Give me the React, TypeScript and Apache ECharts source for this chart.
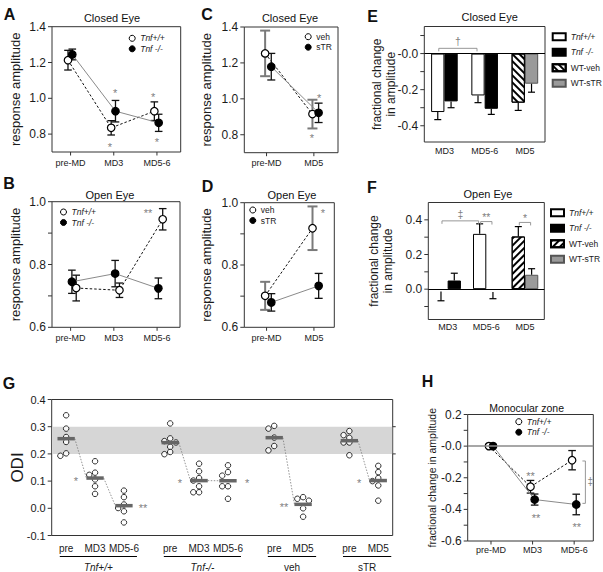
import React, { useEffect, useRef } from 'react';
import * as echarts from 'echarts';

const FONT = '"Liberation Sans", Arial, Helvetica, sans-serif';
const INK = '#1b1b1b';
const AXIS = '#333';
const STAR = '#808080';

// ---------------- DATA ----------------
const catsTime = ['pre-MD', 'MD3', 'MD5-6'];
const catsDrug = ['pre-MD', 'MD5'];
const catsFrac = ['MD3', 'MD5-6', 'MD5'];

// A – Closed eye
const aWT = [1.213, 0.835, 0.928];
const aWTErr = [0.055, 0.04, 0.052];
const aKO = [1.245, 0.928, 0.863];
const aKOErr = [0.03, 0.06, 0.048];
// B – Open eye
const bWT = [0.725, 0.718, 0.944];
const bWTErr = [0.041, 0.023, 0.034];
const bKO = [0.745, 0.771, 0.724];
const bKOErr = [0.037, 0.042, 0.033];
// C – Closed eye, veh / sTR
const cVeh = [1.253, 0.915];
const cVehErr = [0.127, 0.08];
const cSTR = [1.179, 0.922];
const cSTRErr = [0.074, 0.054];
// D – Open eye, veh / sTR
const dVeh = [0.701, 0.918];
const dVehErr = [0.045, 0.07];
const dSTR = [0.68, 0.733];
const dSTRErr = [0.028, 0.04];
// E – fractional change, closed eye
const eWT = [-0.324, -0.232, null];
const eWTErr = [0.042, 0.04, null];
const eKO = [-0.265, -0.306, null];
const eKOErr = [0.035, 0.031, null];
const eVeh = [null, null, -0.272];
const eVehErr = [null, null, 0.043];
const eSTR = [null, null, -0.167];
const eSTRErr = [null, null, 0.047];
// F – fractional change, open eye
const fWT = [-0.014, 0.319, null];
const fWTErr = [0.053, 0.058, null];
const fKO = [0.05, -0.017, null];
const fKOErr = [0.042, 0.038, null];
const fVeh = [null, null, 0.304];
const fVehErr = [null, null, 0.057];
const fSTR = [null, null, 0.083];
const fSTRErr = [null, null, 0.035];
// H – monocular zone
const hWT = [0, -0.257, -0.089];
const hWTErr = [0, 0.04, 0.061];
const hKO = [0, -0.338, -0.369];
const hKOErr = [0, 0.035, 0.065];
// G – ODI
const gGroupNames = ['Tnf+/+', 'Tnf-/-', 'veh', 'sTR'];
const gGroupItalic = [true, true, false, false];
const gConditions = [['pre', 'MD3', 'MD5-6'], ['pre', 'MD3', 'MD5-6'], ['pre', 'MD5'], ['pre', 'MD5']];
const gTnfWT = [
  [0.342, 0.293, 0.262, 0.244, 0.202, 0.193],
  [0.173, 0.131, 0.123, 0.106, 0.081, 0.053],
  [0.065, 0.041, 0.014, 0.001, -0.011, -0.052],
];
const gTnfKO = [
  [0.312, 0.257, 0.247, 0.242, 0.226, 0.207, 0.199],
  [0.164, 0.136, 0.111, 0.102, 0.081, 0.059, 0.059],
  [0.158, 0.133, 0.12, 0.081, 0.081, 0.035],
];
const gVeh = [
  [0.303, 0.293, 0.26, 0.229, 0.213],
  [0.041, 0.035, 0.028, 0.0, -0.031],
];
const gSTR = [
  [0.284, 0.269, 0.259, 0.242, 0.242, 0.195],
  [0.156, 0.133, 0.111, 0.1, 0.084, 0.028],
];
const gValues = [gTnfWT, gTnfKO, gVeh, gSTR];
const gBand = [0.2, 0.3];
const gStars = [
  { g: 0, c: 1, side: -1, t: '*' },
  { g: 0, c: 2, side: 1, t: '**' },
  { g: 1, c: 1, side: -1, t: '*' },
  { g: 1, c: 2, side: 1, t: '*' },
  { g: 2, c: 1, side: -1, t: '**' },
  { g: 3, c: 1, side: -1, t: '*' },
];

// annotations (data coordinates)
const aStars = [
  { x: 1.03, y: 1.042, t: '*' },
  { x: 0.91, y: 0.744, t: '*' },
  { x: 1.91, y: 1.024, t: '*' },
  { x: 2.0, y: 0.772, t: '*' },
];
const bStars = [{ x: 1.79, y: 0.974, t: '**' }];
const cStars = [
  { x: 1.11, y: 1.022, t: '*' },
  { x: 0.96, y: 0.794, t: '*' },
];
const dStars = [{ x: 1.19, y: 0.977, t: '*' }];
const hStars = [
  { x: 0.95, y: -0.172, t: '**' },
  { x: 1.08, y: -0.436, t: '**' },
  { x: 2.06, y: -0.495, t: '**' },
];
const hBracket = { x: 2.27, y1: -0.094, y2: -0.362, t: '‡', tx: 2.39, ty: -0.225 };
const eBrackets = [{ c1: 0, s1: -1, c2: 1, s2: -1, y: 0.029, t: '†' }];
const fBrackets = [
  { c1: 0, s1: -1, c2: 1, s2: -1, y: 0.394, t: '‡' },
  { c1: 1, s1: -1, c2: 1, s2: 1, y: 0.39, t: '**' },
  { c1: 2, s1: -1, c2: 2, s2: 1, y: 0.385, t: '*' },
];

// ---------------- STYLE / LAYOUT ----------------
const BW = 13.3;
const G_GAP = 1.6;
const hatchDown = {
  symbol: 'rect', symbolSize: 1, color: '#000', dashArrayX: [1, 0], dashArrayY: [1.4, 3], rotation: Math.PI / 4,
};
const hatchUp = { ...hatchDown, rotation: -Math.PI / 4 };
const styleWT = { color: '#fff', borderColor: '#000', borderWidth: 1 };
const styleKO = { color: '#000', borderColor: '#000', borderWidth: 1 };
const styleSTR = { color: '#9a9a9a', borderColor: '#555', borderWidth: 1 };

function buildOption() {
  const grid: any[] = [];
  const xAxis: any[] = [];
  const yAxis: any[] = [];
  const series: any[] = [];
  const legend: any[] = [];
  const graphic: any[] = [];

  const addGrid = (l: number, t: number, w: number, h: number) => {
    grid.push({
      left: l, top: t, width: w, height: h, show: true, borderColor: AXIS, borderWidth: 1,
      backgroundColor: 'transparent', containLabel: false, outerBoundsMode: 'none',
    });
    return grid.length - 1;
  };

  const makeY = (gi: number, o: any) => ({
    type: 'value', gridIndex: gi, min: o.min, max: o.max,
    axisLine: { show: false, onZero: false }, splitLine: { show: false },
    axisTick: { show: false },
    axisLabel: {
      show: true, customValues: o.labels, margin: 6, fontSize: o.labelSize || 12, fontFamily: FONT, color: INK,
      formatter: (v: number) => (Math.abs(v) < 1e-9 ? o.zero : Number(v).toFixed(1)),
    },
    name: o.name, nameLocation: 'middle', nameGap: o.nameGap, nameRotate: 90, nameMoveOverlap: false,
    nameTextStyle: { fontSize: o.nameSize, fontFamily: FONT, color: INK, lineHeight: o.nameLH || o.nameSize * 1.1 },
  });

  // ticks drawn through the axes' own scales
  const tickSeries = (xi: number, yi: number, side: string, values: number[], ref: number, len: number) => ({
    type: 'custom', xAxisIndex: xi, yAxisIndex: yi, silent: true, z: 5, itemStyle: { color: AXIS },
    data: values.map((v) => (side === 'bottom' ? [v, ref] : [ref, v])),
    renderItem: (p: any, api: any) => {
      const cs = p.coordSys;
      const c = api.coord([api.value(0), api.value(1)]);
      let shape;
      if (side === 'bottom') shape = { x1: c[0], y1: cs.y + cs.height, x2: c[0], y2: cs.y + cs.height + len };
      else if (side === 'right') shape = { x1: cs.x + cs.width, y1: c[1], x2: cs.x + cs.width + len, y2: c[1] };
      else shape = { x1: cs.x - len, y1: c[1], x2: cs.x, y2: c[1] };
      return { type: 'line', shape, style: { stroke: AXIS, lineWidth: 1, fill: 'none' } };
    },
  });

  const errSeries = (xi: number, yi: number, data: any[], color: string, width: number, cap: number) => ({
    type: 'custom', xAxisIndex: xi, yAxisIndex: yi, data, z: 3, silent: true, itemStyle: { color },
    encode: { x: 0, y: [1, 2] },
    renderItem: (p: any, api: any) => {
      const x = api.value(0);
      const a = api.coord([x, api.value(1)]);
      const b = api.coord([x, api.value(2)]);
      const st = { stroke: color, lineWidth: width, fill: 'none' };
      return {
        type: 'group', children: [
          { type: 'line', shape: { x1: a[0], y1: a[1], x2: b[0], y2: b[1] }, style: st },
          { type: 'line', shape: { x1: a[0] - cap, y1: a[1], x2: a[0] + cap, y2: a[1] }, style: st },
          { type: 'line', shape: { x1: b[0] - cap, y1: b[1], x2: b[0] + cap, y2: b[1] }, style: st },
        ],
      };
    },
  });

  const textSeries = (xi: number, yi: number, items: any[], size: number) => ({
    type: 'custom', xAxisIndex: xi, yAxisIndex: yi, z: 6, silent: true, itemStyle: { color: STAR },
    data: items.map((it) => [it.x, it.y]),
    renderItem: (p: any, api: any) => {
      const it = items[p.dataIndex];
      const c = api.coord([it.x, it.y]);
      const star = it.t.indexOf('*') >= 0;
      return {
        type: 'text', x: c[0], y: c[1] + (star ? size * 0.24 : 0),
        style: { text: it.t, fill: STAR, fontSize: size, fontFamily: FONT, align: 'center', verticalAlign: 'middle' },
      };
    },
  });

  const label = (text: string, x: number, y: number, size: number, bold = false) =>
    graphic.push({
      type: 'text', x, y, silent: true,
      style: { text, fontSize: size, fontWeight: bold ? 'bold' : 'normal', fontFamily: FONT, fill: '#111', align: 'center', verticalAlign: 'middle' },
    });

  // ---------- line panels ----------
  const linePanel = (o: any) => {
    const gi = addGrid(o.box[0], o.box[1], o.box[2], o.box[3]);
    const xi = xAxis.length;
    const idx = o.cats.map((_: any, i: number) => i);
    xAxis.push({
      type: 'value', gridIndex: gi, min: o.xMin, max: o.xMax, axisLine: { show: false, onZero: false }, splitLine: { show: false },
      axisTick: { show: false },
      axisLabel: {
        customValues: idx, margin: o.xMargin, fontSize: 9, fontFamily: FONT, color: INK,
        formatter: (v: number) => o.cats[Math.round(v)] ?? '',
      },
    });
    const yi = yAxis.length;
    yAxis.push(makeY(gi, o.y));
    series.push(tickSeries(xi, yi, 'left', o.y.ticks, o.xMin, 4));
    series.push(tickSeries(xi, yi, 'bottom', idx, o.y.min, 3.5));
    o.specs.forEach((s: any, k: number) => {
      const name = `${o.id}|${s.label}`;
      const line: any = {
        type: 'line', name, xAxisIndex: xi, yAxisIndex: yi, z: 4, silent: true,
        data: s.values.map((v: number, i: number) => [i + s.dx, v]),
        symbol: 'circle', symbolSize: 7.5,
        itemStyle: { color: s.open ? '#fff' : '#000', borderColor: '#000', borderWidth: 1.2 },
        lineStyle: { color: s.dashed ? '#111' : '#8a8a8a', width: 1, type: s.dashed ? [2.5, 2] : 'solid' },
        emphasis: { disabled: true },
      };
      if (k === 0 && o.zeroLine) {
        line.markLine = {
          silent: true, symbol: 'none', label: { show: false }, data: [{ yAxis: 0 }],
          lineStyle: { color: '#8a8a8a', width: 1.6, type: 'solid' },
        };
      }
      series.push(line);
      const ed = s.values
        .map((v: number, i: number) => (s.errs[i] > 0 ? [i + s.dx, v - s.errs[i], v + s.errs[i]] : null))
        .filter((d: any) => d);
      series.push(errSeries(xi, yi, ed, s.errColor, s.errWidth, s.cap));
    });
    series.push(textSeries(xi, yi, o.stars, 11));
    legend.push({
      left: o.legend[0], top: o.legend[1], orient: 'vertical', itemWidth: 6, itemHeight: 6, itemGap: 1.5,
      padding: 0, selectedMode: false,
      textStyle: { fontSize: 8.5, fontFamily: FONT, color: INK, lineHeight: 9 },
      formatter: (n: string) => n.split('|')[1],
      data: o.specs.map((s: any) => ({
        name: `${o.id}|${s.label}`, icon: 'circle',
        itemStyle: { color: s.open ? '#fff' : '#000', borderColor: '#000', borderWidth: 1 },
        textStyle: { fontStyle: s.italic ? 'italic' : 'normal' },
      })),
    });
    if (o.vBracket) {
      const b = o.vBracket;
      series.push({
        type: 'custom', xAxisIndex: xi, yAxisIndex: yi, z: 6, silent: true, itemStyle: { color: STAR }, data: [[b.x, b.y1]],
        renderItem: (p: any, api: any) => {
          const a = api.coord([b.x, b.y1]);
          const c = api.coord([b.x, b.y2]);
          const t = api.coord([b.tx, b.ty]);
          return {
            type: 'group', children: [
              { type: 'polyline', shape: { points: [[a[0] - 3, a[1]], [a[0], a[1]], [c[0], c[1]], [c[0] - 3, c[1]]] }, style: { stroke: '#8c8c8c', lineWidth: 0.9, fill: 'none' } },
              { type: 'text', x: t[0], y: t[1], style: { text: b.t, fill: STAR, fontSize: 10, fontFamily: FONT, align: 'center', verticalAlign: 'middle' } },
            ],
          };
        },
      });
    }
  };

  const wtSpec = (values: number[], errs: number[], dx: number) => ({ label: 'Tnf+/+', italic: true, values, errs, open: true, dashed: true, dx, errColor: '#111', errWidth: 1.3, cap: 3.8 });
  const koSpec = (values: number[], errs: number[], dx: number) => ({ label: 'Tnf -/-', italic: true, values, errs, open: false, dashed: false, dx, errColor: '#111', errWidth: 1.3, cap: 3.8 });
  const vehSpec = (values: number[], errs: number[], dx: number) => ({ label: 'veh', italic: false, values, errs, open: true, dashed: true, dx, errColor: '#7a7a7a', errWidth: 2, cap: 5 });
  const strSpec = (values: number[], errs: number[], dx: number) => ({ label: 'sTR', italic: false, values, errs, open: false, dashed: false, dx, errColor: '#111', errWidth: 1.3, cap: 4 });

  const yClosed = { min: 0.7, max: 1.4, ticks: [0.8, 1.0, 1.2, 1.4], labels: [0.8, 1.0, 1.2, 1.4], zero: '0.0', name: 'response amplitude', nameSize: 13 };
  const yOpen = { min: 0.6, max: 1.0, ticks: [0.6, 0.7, 0.8, 0.9, 1.0], labels: [0.6, 0.8, 1.0], zero: '0.0', name: 'response amplitude', nameSize: 13 };

  linePanel({
    id: 'A', box: [52, 26.7, 128.7, 125.3], cats: catsTime, xMin: -0.43, xMax: 2.55, xMargin: 6,
    y: { ...yClosed, nameGap: 29 }, specs: [wtSpec(aWT, aWTErr, -0.06), koSpec(aKO, aKOErr, 0.04)],
    stars: aStars, legend: [128.7, 33.8],
  });
  linePanel({
    id: 'B', box: [52, 201.7, 128, 125.6], cats: catsTime, xMin: -0.43, xMax: 2.53, xMargin: 6,
    y: { ...yOpen, nameGap: 29 }, specs: [wtSpec(bWT, bWTErr, 0.13), koSpec(bKO, bKOErr, 0.03)],
    stars: bStars, legend: [60, 207.5],
  });
  linePanel({
    id: 'C', box: [244.3, 27, 93.7, 125.7], cats: catsDrug, xMin: -0.47, xMax: 1.51, xMargin: 6,
    y: { ...yClosed, nameGap: 31 }, specs: [vehSpec(cVeh, cVehErr, -0.03), strSpec(cSTR, cSTRErr, 0.1)],
    stars: cStars, legend: [304.7, 32.2],
  });
  linePanel({
    id: 'D', box: [244.3, 202.7, 90, 124.6], cats: catsDrug, xMin: -0.47, xMax: 1.43, xMargin: 6,
    y: { ...yOpen, nameGap: 31 }, specs: [vehSpec(dVeh, dVehErr, -0.03), strSpec(dSTR, dSTRErr, 0.1)],
    stars: dStars, legend: [249.3, 205.5],
  });
  linePanel({
    id: 'H', box: [467.7, 414.5, 125.6, 126.5], cats: catsTime, xMin: -0.56, xMax: 2.46, xMargin: 4.5,
    y: {
      min: -0.6, max: 0.2, ticks: [-0.6, -0.5, -0.4, -0.3, -0.2, -0.1, 0, 0.1, 0.2], labels: [-0.6, -0.4, -0.2, 0, 0.2],
      zero: '-0.0', name: 'fractional change in amplitude', nameSize: 10.5, nameGap: 30,
    },
    specs: [wtSpec(hWT, hWTErr, -0.05), koSpec(hKO, hKOErr, 0.05)],
    stars: hStars, legend: [515.3, 417.2], zeroLine: true, vBracket: hBracket,
  });

  // ---------- bar panels ----------
  const barPanel = (o: any) => {
    const gi = addGrid(o.box[0], o.box[1], o.box[2], o.box[3]);
    const xi = xAxis.length;
    xAxis.push({
      type: 'category', gridIndex: gi, data: catsFrac, axisLine: { show: false, onZero: false }, axisTick: { show: false },
      axisLabel: { fontSize: 9, margin: o.xMargin, fontFamily: FONT, color: INK },
    });
    const yi = yAxis.length;
    yAxis.push(makeY(gi, o.y));
    series.push(tickSeries(xi, yi, 'left', o.y.ticks, 0, 4));
    const errData: any[] = [];
    o.specs.forEach((s: any, k: number) => {
      const bar: any = {
        type: 'bar', name: `${o.id}|${s.label}`, xAxisIndex: xi, yAxisIndex: yi, data: s.values, stack: s.stack,
        barWidth: BW, barGap: '0%', itemStyle: s.style, z: 3, silent: true, emphasis: { disabled: true },
      };
      if (k === 0) {
        bar.markLine = {
          silent: true, symbol: 'none', label: { show: false }, data: [{ yAxis: 0 }],
          lineStyle: { color: '#000', width: 1.2, type: 'solid' },
        };
      }
      series.push(bar);
      s.values.forEach((v: number | null, i: number) => {
        if (v != null) errData.push([i, v, v + Math.sign(v) * s.errs[i], s.stack === 'L' ? -1 : 1]);
      });
    });
    series.push({
      type: 'custom', xAxisIndex: xi, yAxisIndex: yi, z: 4, silent: true, itemStyle: { color: '#000' }, data: errData,
      renderItem: (p: any, api: any) => {
        const c = api.value(0);
        const side = api.value(3);
        const a = api.coord([c, api.value(1)]);
        const b = api.coord([c, api.value(2)]);
        const x = a[0] + (side * BW) / 2;
        const st = { stroke: '#000', lineWidth: 1.2, fill: 'none' };
        return {
          type: 'group', children: [
            { type: 'line', shape: { x1: x, y1: a[1], x2: x, y2: b[1] }, style: st },
            { type: 'line', shape: { x1: x - 3.5, y1: b[1], x2: x + 3.5, y2: b[1] }, style: st },
          ],
        };
      },
    });
    series.push({
      type: 'custom', xAxisIndex: xi, yAxisIndex: yi, z: 6, silent: true, itemStyle: { color: STAR },
      data: o.brackets.map((b: any) => [b.c1, b.y]),
      renderItem: (p: any, api: any) => {
        const b = o.brackets[p.dataIndex];
        const p1 = api.coord([b.c1, b.y]);
        const p2 = api.coord([b.c2, b.y]);
        const x1 = p1[0] + (b.s1 * BW) / 2 + 1;
        const x2 = p2[0] + (b.s2 * BW) / 2 - 1;
        const y = p1[1];
        const star = b.t.indexOf('*') >= 0;
        return {
          type: 'group', children: [
            { type: 'polyline', shape: { points: [[x1, y + 3], [x1, y], [x2, y], [x2, y + 3]] }, style: { stroke: '#8c8c8c', lineWidth: 0.9, fill: 'none' } },
            { type: 'text', x: (x1 + x2) / 2, y: y - 7 + (star ? 2.5 : 0), style: { text: b.t, fill: STAR, fontSize: 10.5, fontFamily: FONT, align: 'center', verticalAlign: 'middle' } },
          ],
        };
      },
    });
    legend.push({
      left: o.legend[0], top: o.legend[1], orient: 'vertical', itemWidth: 13, itemHeight: 7, itemGap: 6.5,
      padding: 0, selectedMode: false,
      textStyle: { fontSize: 8.5, fontFamily: FONT, color: INK, lineHeight: 9 },
      formatter: (n: string) => n.split('|')[1],
      data: o.specs.map((s: any) => ({ name: `${o.id}|${s.label}`, icon: 'rect', textStyle: { fontStyle: s.italic ? 'italic' : 'normal' } })),
    });
  };

  const barSpecs = (wt: any, wtE: any, ko: any, koE: any, veh: any, vehE: any, str: any, strE: any, hatch: any) => [
    { label: 'Tnf+/+', italic: true, values: wt, errs: wtE, stack: 'L', style: styleWT },
    { label: 'Tnf -/-', italic: true, values: ko, errs: koE, stack: 'R', style: styleKO },
    { label: 'WT-veh', italic: false, values: veh, errs: vehE, stack: 'L', style: { ...styleWT, decal: hatch } },
    { label: 'WT-sTR', italic: false, values: str, errs: strE, stack: 'R', style: styleSTR },
  ];

  barPanel({
    id: 'E', box: [424.3, 26.5, 120.7, 115.5], xMargin: 4.5,
    y: {
      min: -0.49, max: 0.15, ticks: [-0.4, -0.3, -0.2, -0.1, 0, 0.1], labels: [-0.4, -0.2, 0], zero: '-0.0',
      name: 'fractional change\nin amplitude', nameSize: 12, nameLH: 13.3, nameGap: 27,
    },
    specs: barSpecs(eWT, eWTErr, eKO, eKOErr, eVeh, eVehErr, eSTR, eSTRErr, hatchDown),
    brackets: eBrackets, legend: [551.7, 32.2],
  });
  barPanel({
    id: 'F', box: [428.3, 202.5, 116, 117], xMargin: 3,
    y: {
      min: -0.175, max: 0.5, ticks: [-0.1, 0, 0.1, 0.2, 0.3, 0.4], labels: [0, 0.2, 0.4], zero: '0.0',
      name: 'fractional change\nin amplitude', nameSize: 12, nameLH: 13.3, nameGap: 34,
    },
    specs: barSpecs(fWT, fWTErr, fKO, fKOErr, fVeh, fVehErr, fSTR, fSTRErr, hatchUp),
    brackets: fBrackets, legend: [550, 208.2],
  });

  // ---------- G: ODI scatter ----------
  const gPos: number[][] = [];
  let cur = 0.5;
  gConditions.forEach((conds) => {
    gPos.push(conds.map((_, i) => cur + i));
    cur += conds.length - 1 + G_GAP;
  });
  const flatPos = gPos.flat();
  const flatNames = gConditions.flat();
  const gMax = flatPos[flatPos.length - 1] + 0.5;
  const gi = addGrid(51.7, 399.5, 341, 136);
  const gx = xAxis.length;
  xAxis.push({
    type: 'value', gridIndex: gi, min: 0, max: gMax, axisLine: { show: false, onZero: false }, splitLine: { show: false },
    axisTick: { show: false },
    axisLabel: {
      customValues: flatPos, margin: 7.5, fontSize: 10, fontFamily: FONT, color: INK,
      formatter: (v: number) => {
        let best = 0;
        flatPos.forEach((p, i) => { if (Math.abs(p - v) < Math.abs(flatPos[best] - v)) best = i; });
        return flatNames[best];
      },
    },
  });
  const gy = yAxis.length;
  const gTicks = [-0.1, 0, 0.1, 0.2, 0.3, 0.4];
  yAxis.push({
    type: 'value', gridIndex: gi, min: -0.1, max: 0.4, interval: 0.1,
    axisLine: { show: false, onZero: false }, splitLine: { show: false },
    axisTick: { show: false },
    axisLabel: { margin: 6, fontSize: 11, fontFamily: FONT, color: INK, formatter: (v: number) => Number(v).toFixed(1) },
    name: 'ODI', nameLocation: 'middle', nameGap: 26, nameRotate: 90, nameMoveOverlap: false,
    nameTextStyle: { fontSize: 17, fontFamily: FONT, color: INK },
  });
  series.push(tickSeries(gx, gy, 'left', gTicks, 0, 4));
  series.push(tickSeries(gx, gy, 'right', gBand, 0, 3));
  // grey reference band
  series.push({
    type: 'custom', xAxisIndex: gx, yAxisIndex: gy, z: 1, silent: true, itemStyle: { color: '#d6d6d6' }, data: [[0, gBand[0]]],
    renderItem: (p: any, api: any) => {
      const cs = p.coordSys;
      const hi = api.coord([0, gBand[1]]);
      const lo = api.coord([0, gBand[0]]);
      return { type: 'rect', shape: { x: cs.x + 0.5, y: hi[1], width: cs.width - 1, height: lo[1] - hi[1] }, style: { fill: '#d6d6d6' } };
    },
  });
  // individual points with simple dodge
  const dodge = (vals: number[]) => {
    const placed: { o: number; v: number }[] = [];
    return vals.map((v) => {
      for (const k of [0, -1, 1, -2, 2]) {
        const off = k * 0.2;
        if (!placed.some((q) => q.o === off && Math.abs(q.v - v) < 0.017)) {
          placed.push({ o: off, v });
          return off;
        }
      }
      return 0;
    });
  };
  const pts: number[][] = [];
  const means: number[][] = [];
  const links: number[][] = [];
  gValues.forEach((grp, g) => {
    grp.forEach((vals, c) => {
      const offs = dodge(vals);
      vals.forEach((v, i) => pts.push([gPos[g][c] + offs[i], v]));
      const m = vals.reduce((s, v) => s + v, 0) / vals.length;
      means.push([gPos[g][c], m]);
      if (c > 0) links.push([means[means.length - 2][0], means[means.length - 2][1], gPos[g][c], m]);
    });
  });
  series.push({
    type: 'custom', xAxisIndex: gx, yAxisIndex: gy, z: 2, silent: true, itemStyle: { color: '#7a7a7a' }, data: links,
    renderItem: (p: any, api: any) => {
      const a = api.coord([api.value(0) + 0.3, api.value(1)]);
      const b = api.coord([api.value(2) - 0.3, api.value(3)]);
      return { type: 'line', shape: { x1: a[0], y1: a[1], x2: b[0], y2: b[1] }, style: { stroke: '#7a7a7a', lineWidth: 0.8, lineDash: [1.5, 1.5], fill: 'none' } };
    },
  });
  series.push({
    type: 'scatter', xAxisIndex: gx, yAxisIndex: gy, z: 3, silent: true, data: pts, symbol: 'circle', symbolSize: 5.5,
    itemStyle: { color: '#fff', borderColor: '#000', borderWidth: 1 }, emphasis: { disabled: true },
  });
  series.push({
    type: 'custom', xAxisIndex: gx, yAxisIndex: gy, z: 4, silent: true, itemStyle: { color: '#666' }, data: means,
    renderItem: (p: any, api: any) => {
      const a = api.coord([api.value(0) - 0.3, api.value(1)]);
      const b = api.coord([api.value(0) + 0.3, api.value(1)]);
      return { type: 'line', shape: { x1: a[0], y1: a[1], x2: b[0], y2: b[1] }, style: { stroke: '#666', lineWidth: 3.5, fill: 'none' } };
    },
  });
  const gStarItems = gStars.map((s) => ({
    x: gPos[s.g][s.c] + s.side * 0.66,
    y: means[gPos.slice(0, s.g).reduce((n, a) => n + a.length, 0) + s.c][1],
    t: s.t,
  }));
  series.push(textSeries(gx, gy, gStarItems, 11));
  // group underlines + names
  series.push({
    type: 'custom', xAxisIndex: gx, yAxisIndex: gy, z: 5, silent: true, itemStyle: { color: INK },
    data: gPos.map((ps) => [ps[0], 0]),
    renderItem: (p: any, api: any) => {
      const ps = gPos[p.dataIndex];
      const cs = p.coordSys;
      const a = api.coord([ps[0] - 0.22, 0]);
      const b = api.coord([ps[ps.length - 1] + 0.45, 0]);
      const y = cs.y + cs.height + 21;
      return {
        type: 'group', children: [
          { type: 'line', shape: { x1: a[0], y1: y, x2: b[0], y2: y }, style: { stroke: '#000', lineWidth: 1.2, fill: 'none' } },
          {
            type: 'text', x: (a[0] + b[0]) / 2, y: y + 11,
            style: { text: gGroupNames[p.dataIndex], fill: INK, fontSize: 10, fontFamily: FONT, fontStyle: gGroupItalic[p.dataIndex] ? 'italic' : 'normal', align: 'center', verticalAlign: 'middle' },
          },
        ],
      };
    },
  });

  // ---------- titles & panel letters ----------
  label('A', 9.5, 14, 16, true);
  label('B', 9, 183.5, 16, true);
  label('C', 207, 14, 16, true);
  label('D', 207.5, 186, 16, true);
  label('E', 372.5, 16, 16, true);
  label('F', 372, 187.5, 16, true);
  label('G', 9, 383.5, 16, true);
  label('H', 427.5, 381, 16, true);
  label('Closed Eye', 112, 18, 11);
  label('Open Eye', 110, 195, 11);
  label('Closed Eye', 290, 18, 11);
  label('Open Eye', 292, 195, 11);
  label('Closed Eye', 489.7, 17.3, 11);
  label('Open Eye', 488, 194, 11);
  label('Monocular zone', 526.7, 407.7, 10.5);

  return {
    animation: false,
    backgroundColor: '#fff',
    textStyle: { fontFamily: FONT },
    grid, xAxis, yAxis, series, legend, graphic,
  };
}

export default function App() {
  const ref = useRef<HTMLDivElement>(null);
  useEffect(() => {
    const chart = echarts.init(ref.current as HTMLDivElement, null, { renderer: 'svg' });
    chart.setOption(buildOption() as any);
    return () => chart.dispose();
  }, []);
  return <div ref={ref} style={{ position: 'fixed', left: 0, top: 0, width: 603, height: 572, background: '#fff' }} />;
}
